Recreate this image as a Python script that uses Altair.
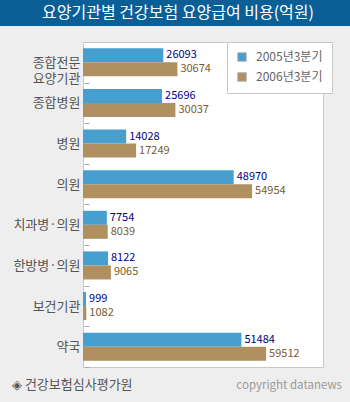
import altair as alt
import pandas as pd

categories = ["종합전문\n요양기관", "종합병원", "병원", "의원", "치과병·의원", "한방병·의원", "보건기관", "약국"]
series = ["2005년3분기", "2006년3분기"]
values_2005 = [26093, 25696, 14028, 48970, 7754, 8122, 999, 51484]
values_2006 = [30674, 30037, 17249, 54954, 8039, 9065, 1082, 59512]

title_text = "요양기관별 건강보험 요양급여 비용(억원)"
source_text = "◈ 건강보험심사평가원"
credit_text = "copyright datanews"

rows = []
for c, a, b in zip(categories, values_2005, values_2006):
    rows.append({"cat": c, "series": series[0], "value": a})
    rows.append({"cat": c, "series": series[1], "value": b})
df = pd.DataFrame(rows)

FONT = "Noto Sans CJK KR"
BLUE = "#479fd0"
BROWN = "#b08f60"

y_enc = alt.Y("cat:N", sort=categories, title=None,
              scale=alt.Scale(paddingInner=0.31, paddingOuter=0.155),
              axis=alt.Axis(domain=False, offset=-6, tickSize=5, tickColor="#aaaaaa",
                            tickOffset=20.3, labelOffset=-20.3, labelPadding=4,
                            labelFont=FONT, labelFontSize=13, labelColor="#555555",
                            labelLineHeight=16,
                            labelExpr="split(datum.label, '\\n')"))
yoff = alt.YOffset("series:N", sort=series, scale=alt.Scale(paddingInner=0, paddingOuter=0))
x_enc = alt.X("value:Q", scale=alt.Scale(domain=[0, 78000], nice=False), axis=None)

base = alt.Chart(df)

bars = base.mark_bar().encode(
    y=y_enc, yOffset=yoff, x=x_enc,
    color=alt.Color("series:N", sort=series,
                    scale=alt.Scale(domain=series, range=[BLUE, BROWN]),
                    legend=alt.Legend(title=None, orient="none", legendX=144, legendY=0,
                                      fillColor="white", strokeColor="#c8c8c8",
                                      padding=9, symbolType="square", symbolSize=70,
                                      symbolStrokeColor="#aaaaaa", symbolStrokeWidth=1,
                                      labelFont=FONT, labelFontSize=12, labelColor="#666666",
                                      rowPadding=6, labelOffset=8)),
)

t1 = base.transform_filter(alt.datum.series == series[0]).mark_text(
    align="left", baseline="middle", dx=3, font=FONT, fontSize=11, color="#000080"
).encode(y=y_enc, yOffset=yoff, x=x_enc, text="value:Q")

t2 = base.transform_filter(alt.datum.series == series[1]).mark_text(
    align="left", baseline="middle", dx=3, font=FONT, fontSize=11, color="#7a5a2e"
).encode(y=y_enc, yOffset=yoff, x=x_enc, text="value:Q")

deco = pd.DataFrame({"t": [title_text]})
title_bar = alt.Chart(deco).mark_rect(color="#0a5f96").encode(
    x=alt.value(-83), x2=alt.value(267), y=alt.value(-42), y2=alt.value(-16))
title = alt.Chart(deco).mark_text(
    font=FONT, fontSize=16, fontWeight="normal", color="white", align="center", baseline="middle"
).encode(x=alt.value(95), y=alt.value(-29), text="t:N")

src = alt.Chart(pd.DataFrame({"t": [source_text]})).mark_text(
    font=FONT, fontSize=13, color="#555555", align="left", baseline="middle"
).encode(x=alt.value(-71), y=alt.value(343), text="t:N")
cred = alt.Chart(pd.DataFrame({"t": [credit_text]})).mark_text(
    font=FONT, fontSize=11.5, color="#9a9a9a", align="right", baseline="middle"
).encode(x=alt.value(259), y=alt.value(344), text="t:N")

chart = alt.layer(bars, t1, t2, title_bar, title, src, cred).properties(
    width=240, height=325,
    autosize=alt.AutoSizeParams(type="none"),
    padding={"left": 83, "top": 42, "right": 27, "bottom": 35},
    background="#eeeeee",
).configure_view(fill="white", stroke="#c8c8c8", strokeWidth=1)

chart.save("out.html", embed_options={"renderer": "svg", "actions": False})
